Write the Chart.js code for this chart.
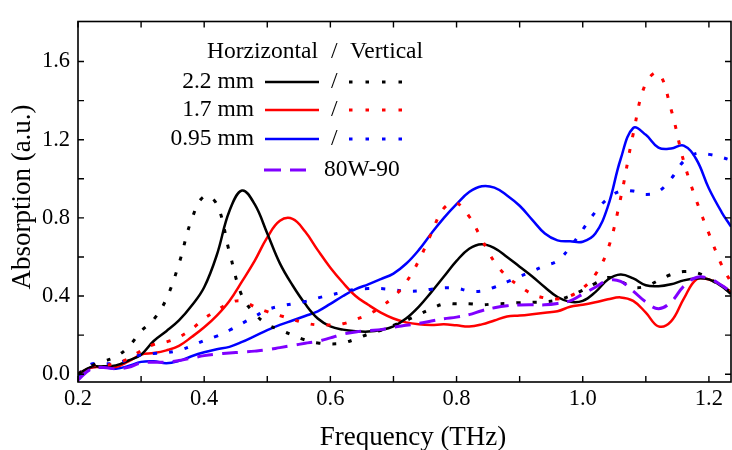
<!DOCTYPE html>
<html>
<head>
<meta charset="utf-8">
<script src="https://cdn.jsdelivr.net/npm/chart.js@4/dist/chart.umd.min.js"></script>
<style>
  html, body { margin: 0; padding: 0; background: #fff; }
  #wrap { width: 732px; height: 450px; }
</style>
</head>
<body>
<div id="wrap"><canvas id="c" width="732" height="450"></canvas></div>
<script>
// ---------- DATA ----------
const freq = [0.20,0.22,0.24,0.26,0.28,0.30,0.32,0.34,0.36,0.38,0.40,0.42,0.44,0.46,0.48,0.50,0.52,0.54,0.56,0.58,0.60,0.62,0.64,0.66,0.68,0.70,0.72,0.74,0.76,0.78,0.80,0.82,0.84,0.86,0.88,0.90,0.92,0.94,0.96,0.98,1.00,1.02,1.04,1.06,1.08,1.10,1.12,1.14,1.16,1.18,1.20,1.22,1.235];

// 2.2 mm horizontal (solid black)
const h22 = [0.0,0.036,0.04,0.045,0.07,0.10,0.17,0.22,0.275,0.35,0.445,0.61,0.835,0.94,0.87,0.72,0.567,0.455,0.36,0.285,0.245,0.228,0.22,0.218,0.226,0.245,0.285,0.345,0.42,0.50,0.58,0.642,0.665,0.645,0.60,0.55,0.50,0.445,0.395,0.37,0.375,0.42,0.485,0.51,0.49,0.455,0.45,0.46,0.48,0.49,0.485,0.45,0.41];
// 2.2 mm vertical (dotted black)
const v22 = [0.0,0.04,0.065,0.09,0.14,0.22,0.28,0.385,0.565,0.79,0.91,0.87,0.625,0.40,0.31,0.255,0.227,0.20,0.175,0.16,0.155,0.16,0.18,0.205,0.225,0.25,0.275,0.305,0.335,0.36,0.36,0.36,0.355,0.36,0.362,0.366,0.368,0.37,0.38,0.40,0.43,0.465,0.495,0.475,0.445,0.45,0.48,0.51,0.525,0.52,0.49,0.45,0.42];
// 1.7 mm horizontal (solid red)
const h17 = [0.0,0.033,0.036,0.036,0.065,0.10,0.108,0.122,0.145,0.19,0.24,0.30,0.375,0.475,0.58,0.70,0.785,0.795,0.73,0.635,0.545,0.468,0.40,0.355,0.315,0.285,0.265,0.255,0.252,0.255,0.25,0.244,0.255,0.275,0.295,0.30,0.307,0.315,0.322,0.345,0.355,0.368,0.383,0.393,0.375,0.315,0.245,0.27,0.385,0.485,0.485,0.455,0.42];
// 1.7 mm vertical (dotted red)
const v17 = [0.0,0.04,0.045,0.055,0.08,0.12,0.152,0.165,0.19,0.23,0.285,0.325,0.365,0.375,0.345,0.32,0.30,0.28,0.262,0.252,0.252,0.258,0.28,0.305,0.345,0.395,0.47,0.58,0.72,0.85,0.875,0.807,0.69,0.575,0.50,0.45,0.41,0.39,0.385,0.40,0.44,0.51,0.64,0.90,1.23,1.49,1.54,1.355,1.09,0.89,0.72,0.56,0.47];
// 0.95 mm horizontal (solid blue)
const h095 = [-0.01,0.033,0.036,0.028,0.042,0.063,0.066,0.056,0.068,0.092,0.112,0.128,0.14,0.165,0.195,0.225,0.252,0.275,0.298,0.322,0.36,0.40,0.435,0.46,0.487,0.515,0.565,0.635,0.72,0.80,0.87,0.932,0.962,0.955,0.915,0.862,0.79,0.72,0.685,0.68,0.678,0.72,0.86,1.10,1.26,1.225,1.16,1.155,1.17,1.10,0.95,0.83,0.755];
// 0.95 mm vertical (dotted blue)
const v095 = [0.0,0.05,0.053,0.056,0.075,0.10,0.106,0.11,0.122,0.145,0.172,0.195,0.225,0.26,0.295,0.33,0.348,0.36,0.372,0.39,0.405,0.42,0.434,0.438,0.438,0.432,0.425,0.426,0.435,0.442,0.44,0.426,0.426,0.445,0.472,0.50,0.527,0.555,0.58,0.65,0.74,0.83,0.90,0.937,0.937,0.92,0.935,1.0,1.09,1.13,1.125,1.11,1.095];
// 80W-90 (dashed purple)
const w8090 = [-0.03,0.025,0.034,0.028,0.035,0.058,0.061,0.062,0.07,0.082,0.095,0.103,0.108,0.113,0.118,0.125,0.136,0.147,0.158,0.168,0.186,0.205,0.216,0.223,0.228,0.24,0.25,0.26,0.272,0.284,0.292,0.305,0.325,0.34,0.35,0.354,0.355,0.355,0.362,0.375,0.41,0.445,0.48,0.475,0.425,0.37,0.335,0.37,0.45,0.495,0.49,0.455,0.42];

const xTickVals = [0.2,0.3,0.4,0.5,0.6,0.7,0.8,0.9,1.0,1.1,1.2];
const xTickLabels = ['0.2','','0.4','','0.6','','0.8','','1.0','','1.2'];
const yTickVals = [0.0,0.2,0.4,0.6,0.8,1.0,1.2,1.4,1.6];
const yTickLabels = ['0.0','','0.4','','0.8','','1.2','','1.6'];

const legendRows = ['2.2 mm','1.7 mm','0.95 mm'];
const xTitle = 'Frequency (THz)';
const yTitle = 'Absorption (a.u.)';

// ---------- CHART ----------
const FONT = '"Liberation Serif", "Times New Roman", serif';
const PURPLE = '#8000ff';
const DOT = [4, 12];
const DASH = [16, 9];
const pts = arr => freq.map((f, i) => ({ x: f, y: arr[i] }));

function ds(label, arr, color, dash, width) {
  return {
    label, data: pts(arr), borderColor: color, backgroundColor: color,
    borderWidth: width, borderDash: dash, pointRadius: 0, fill: false,
    tension: 0.4, borderCapStyle: 'butt'
  };
}

const framePlugin = {
  id: 'frame',
  afterDraw(chart) {
    const { ctx, chartArea: a, scales } = chart;
    ctx.save();
    ctx.strokeStyle = '#000';
    ctx.lineWidth = 1.6;
    ctx.setLineDash([]);
    ctx.strokeRect(a.left, a.top, a.right - a.left, a.bottom - a.top);
    ctx.lineWidth = 1.4;
    const L = 6;
    xTickVals.forEach(v => {
      const x = scales.x.getPixelForValue(v);
      ctx.beginPath();
      ctx.moveTo(x, a.bottom); ctx.lineTo(x, a.bottom - L);
      ctx.moveTo(x, a.top); ctx.lineTo(x, a.top + L);
      ctx.stroke();
    });
    yTickVals.forEach(v => {
      const y = scales.y.getPixelForValue(v);
      ctx.beginPath();
      ctx.moveTo(a.left, y); ctx.lineTo(a.left + L, y);
      ctx.moveTo(a.right, y); ctx.lineTo(a.right - L, y);
      ctx.stroke();
    });

    // axis titles
    ctx.fillStyle = '#000';
    ctx.font = '27px ' + FONT;
    ctx.textAlign = 'center';
    ctx.textBaseline = 'alphabetic';
    ctx.fillText(xTitle, 413, 445);
    ctx.save();
    ctx.translate(30, 197);
    ctx.rotate(-Math.PI / 2);
    ctx.fillText(yTitle, 0, 0);
    ctx.restore();

    // legend
    ctx.font = '23.5px ' + FONT;
    ctx.textBaseline = 'middle';
    ctx.textAlign = 'left';
    ctx.fillText('Horzizontal', 207, 52);
    ctx.fillText('/', 331, 52);
    ctx.fillText('Vertical', 350, 52);
    const rowY = [82, 110, 139];
    const cols = ['#000000', '#ff0000', '#0000ff'];
    legendRows.forEach((t, i) => {
      const y = rowY[i];
      ctx.textAlign = 'right';
      ctx.fillText(t, 254, y);
      ctx.textAlign = 'left';
      ctx.fillText('/', 331, y);
      ctx.strokeStyle = cols[i];
      ctx.lineWidth = 2.5;
      ctx.setLineDash([]);
      ctx.beginPath(); ctx.moveTo(265, y); ctx.lineTo(319, y); ctx.stroke();
      ctx.lineWidth = 3;
      ctx.setLineDash([3.5, 13]);
      ctx.beginPath(); ctx.moveTo(349, y); ctx.lineTo(404, y); ctx.stroke();
    });
    ctx.strokeStyle = PURPLE;
    ctx.lineWidth = 3;
    ctx.setLineDash([17, 9]);
    ctx.beginPath(); ctx.moveTo(264, 170); ctx.lineTo(306, 170); ctx.stroke();
    ctx.setLineDash([]);
    ctx.fillStyle = '#000';
    ctx.textAlign = 'left';
    ctx.fillText('80W-90', 324, 170);
    ctx.restore();
  }
};

new Chart(document.getElementById('c'), {
  type: 'line',
  data: {
    datasets: [
      ds('80W-90', w8090, PURPLE, DASH, 3),
      ds('2.2 mm V', v22, '#000000', DOT, 3),
      ds('1.7 mm V', v17, '#ff0000', DOT, 3),
      ds('0.95 mm V', v095, '#0000ff', DOT, 3),
      ds('2.2 mm H', h22, '#000000', [], 2.5),
      ds('1.7 mm H', h17, '#ff0000', [], 2.5),
      ds('0.95 mm H', h095, '#0000ff', [], 2.5)
    ]
  },
  options: {
    responsive: false,
    animation: false,
    layout: { padding: { top: 11, right: 1, left: 0, bottom: 0 } },
    plugins: { legend: { display: false }, tooltip: { enabled: false } },
    scales: {
      x: {
        type: 'linear', min: 0.2, max: 1.235,
        afterBuildTicks: s => { s.ticks = xTickVals.map(v => ({ value: v })); },
        afterFit: s => { s.height = 68; },
        ticks: {
          autoSkip: false, maxRotation: 0, padding: 4, color: '#000',
          font: { family: FONT, size: 22.5 },
          callback: (v, i) => xTickLabels[i]
        },
        grid: { display: false, drawTicks: false },
        border: { display: false }
      },
      y: {
        type: 'linear', min: -0.04, max: 1.805,
        afterBuildTicks: s => { s.ticks = yTickVals.map(v => ({ value: v })); },
        afterFit: s => { s.width = 78; },
        ticks: {
          autoSkip: false, padding: 8, color: '#000',
          font: { family: FONT, size: 22.5 },
          callback: (v, i) => yTickLabels[i]
        },
        grid: { display: false, drawTicks: false },
        border: { display: false }
      }
    }
  },
  plugins: [framePlugin]
});
</script>
</body>
</html>
